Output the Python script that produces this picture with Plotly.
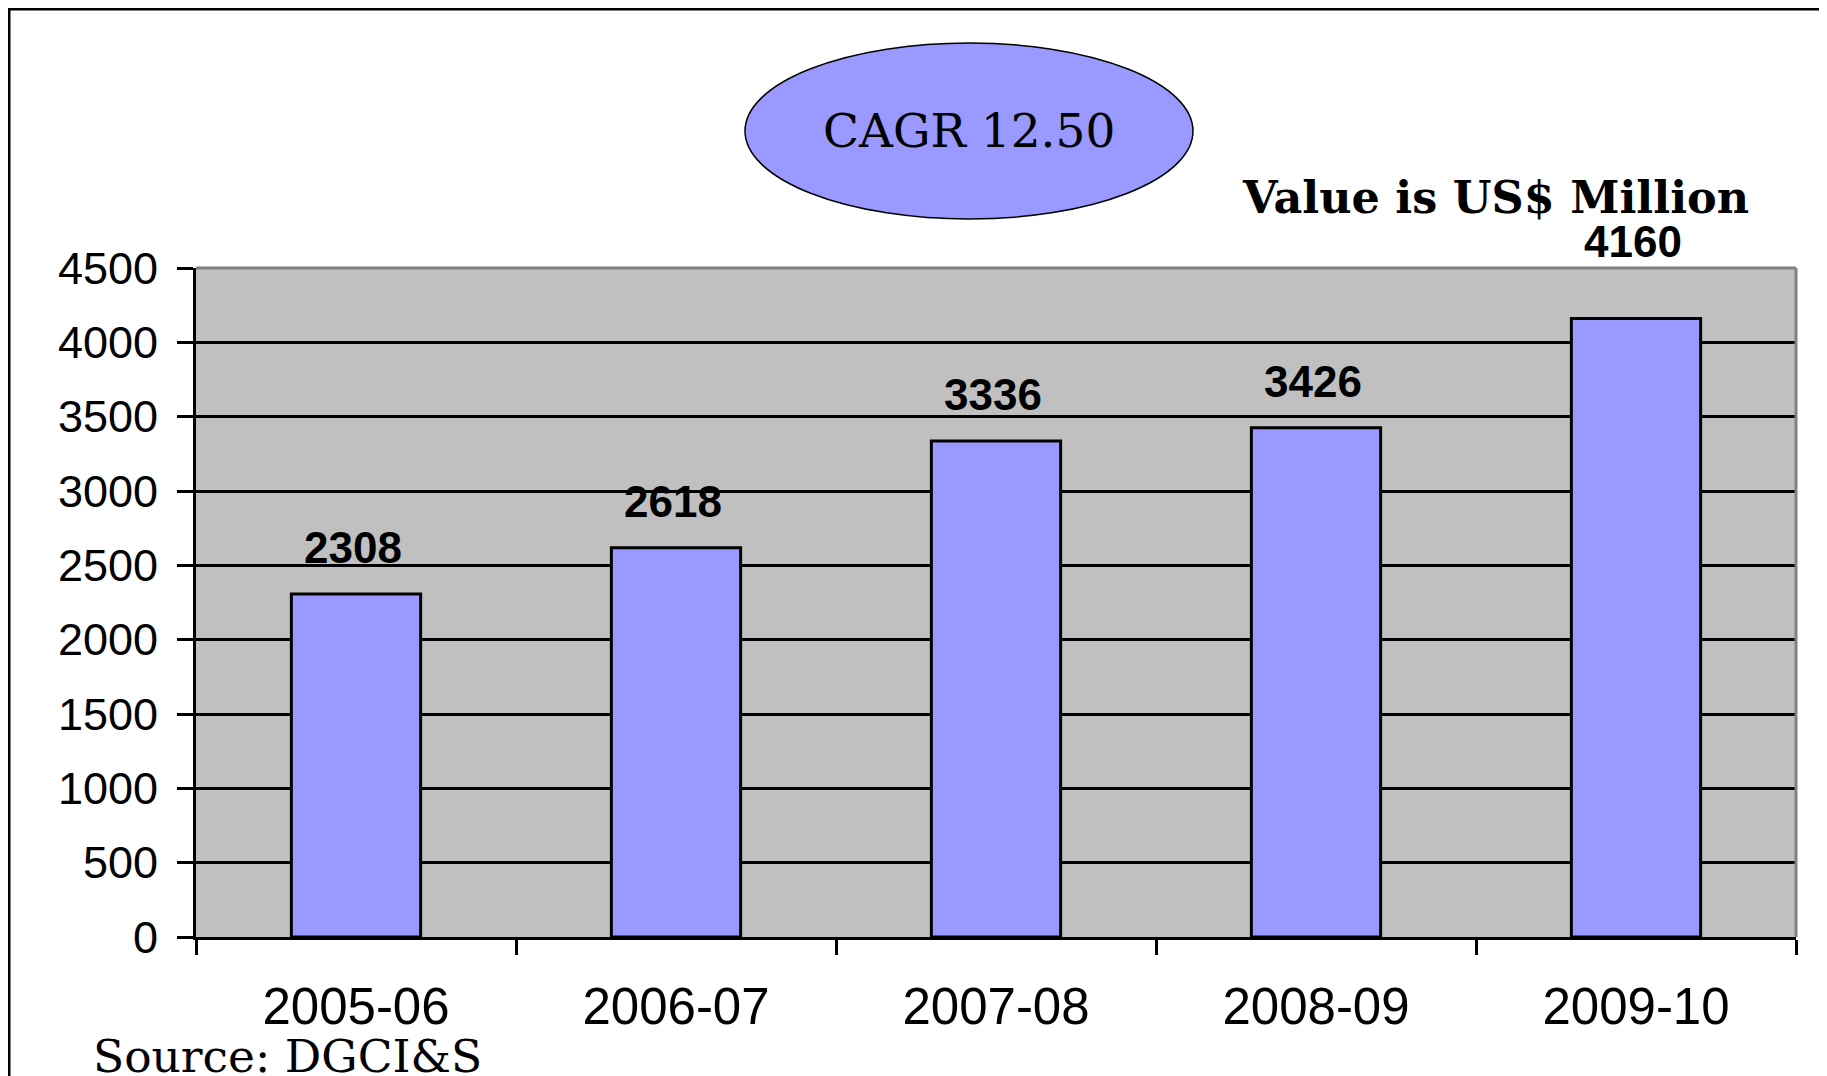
import plotly.graph_objects as go

categories = ["2005-06", "2006-07", "2007-08", "2008-09", "2009-10"]
values = [2308, 2618, 3336, 3426, 4160]
y_ticks = [0, 500, 1000, 1500, 2000, 2500, 3000, 3500, 4000, 4500]
label_shift = [20, 20, 20, 20, 51]

# page has an 8px body margin; work in page pixels and convert
OFF = 8
W, H = 1827 - OFF, 1076 - OFF
L, R, T, B = 196, 1796, 268, 937  # plot area, page pixels


def px(x):
    return (x - L) / (R - L)


def py(y):
    return (B - y) / (B - T)


fig = go.Figure()
fig.add_trace(go.Bar(
    x=categories, y=values,
    marker=dict(color="#9999ff", line=dict(color="black", width=3)),
    hoverinfo="x+y",
))

sans = "Liberation Sans, Arial"
serif = "DejaVu Serif"

for c, v, s in zip(categories, values, label_shift):
    fig.add_annotation(
        x=c, y=v, text=f"<b>{v}</b>", showarrow=False,
        xanchor="center", yanchor="bottom", yshift=s, xshift=-3,
        font=dict(family=sans, size=44, color="black"),
    )

fig.add_annotation(
    xref="paper", yref="paper", x=px(969), y=py(131), text="CAGR 12.50",
    showarrow=False, xanchor="center", yanchor="middle",
    font=dict(family=serif, size=47, color="black"),
)
fig.add_annotation(
    xref="paper", yref="paper", x=px(1495), y=py(197), text="<b>Value is US$ Million</b>",
    showarrow=False, xanchor="center", yanchor="middle",
    font=dict(family=serif, size=44.5, color="black"),
)
fig.add_annotation(
    xref="paper", yref="paper", x=px(91), y=py(1056), text="Source: DGCI&amp;S",
    showarrow=False, xanchor="left", yanchor="middle",
    font=dict(family=serif, size=45.5, color="black"),
)

shapes = [
    # outer frame
    dict(type="rect", xref="paper", yref="paper", x0=px(9), x1=px(1822), y0=py(1110), y1=py(9),
         line=dict(color="black", width=3), fillcolor="rgba(0,0,0,0)", layer="above"),
    # CAGR ellipse
    dict(type="circle", xref="paper", yref="paper", x0=px(745), x1=px(1193), y0=py(219), y1=py(43),
         line=dict(color="black", width=1.5), fillcolor="#9999ff", layer="below"),
    # gray plot border top and right
    dict(type="line", xref="paper", yref="paper", x0=0, x1=1, y0=1, y1=1,
         line=dict(color="#808080", width=3), layer="above"),
    dict(type="line", xref="paper", yref="paper", x0=1, x1=1, y0=0, y1=1,
         line=dict(color="#808080", width=3), layer="above"),
]

fig.update_layout(
    width=W, height=H,
    margin=dict(l=L - OFF, r=W - (R - OFF), t=T - OFF, b=H - (B - OFF), pad=0),
    paper_bgcolor="white", plot_bgcolor="#c0c0c0",
    bargap=0.596, showlegend=False, shapes=shapes,
    xaxis=dict(
        type="category", ticks="outside", tickson="boundaries", ticklen=15, tickwidth=3,
        tickcolor="black", showline=True, linecolor="black", linewidth=3,
        showgrid=False, tickfont=dict(family=sans, size=51, color="black"),
        ticklabelstandoff=23,
    ),
    yaxis=dict(
        range=[0, 4500], tickvals=y_ticks, ticks="outside", ticklen=16, tickwidth=3,
        tickcolor="black", showline=True, linecolor="black", linewidth=3,
        showgrid=True, gridcolor="black", gridwidth=3, zeroline=False,
        tickfont=dict(family=sans, size=45, color="black"), ticklabelstandoff=10,
    ),
)

fig.write_html("out.html")
